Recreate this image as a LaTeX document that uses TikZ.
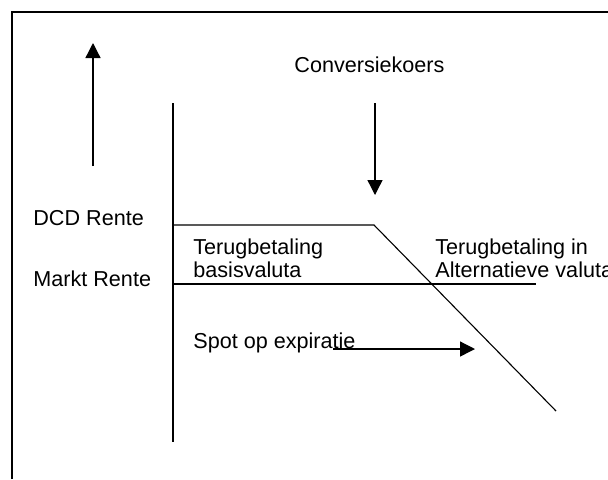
\documentclass[tikz,border=0pt]{standalone}
\usepackage{fontspec}
\setmainfont{Liberation Sans}
\usetikzlibrary{arrows.meta}
\begin{document}
\begin{tikzpicture}[x=0.5pt,y=-0.5pt,
  frameline/.style={line width=0.75pt},
  plotline/.style={line width=0.55pt},
  arrowline/.style={line width=0.65pt,-{Triangle[length=7.5pt,width=7.5pt]}},
  lbl/.style={anchor=base west,inner sep=0pt,font=\fontsize{10.8pt}{11.5pt}\selectfont,align=left}]
\useasboundingbox (0,0) rectangle (608,479);
% frame
\coordinate (fb) at (12,479);
\coordinate (ftl) at (12,12);
\coordinate (fr) at (608,12);
\draw[frameline] (fb) -- (ftl) -- (fr);
% axis
\coordinate (axtop) at (173,103);
\coordinate (axbot) at (173,442);
\draw[plotline] (axtop) -- (axbot);
% DCD line and diagonal
\coordinate (dcd0) at (173,225);
\coordinate (kink) at (374,225);
\coordinate (diagend) at (556,411);
\draw[plotline] (dcd0) -- (kink) -- (diagend);
% Markt line
\coordinate (mk0) at (173,284);
\coordinate (mk1) at (536,284);
\draw[plotline] (mk0) -- (mk1);
% arrows
\coordinate (upfrom) at (93,166);
\coordinate (upto) at (93,43);
\draw[arrowline] (upfrom) -- (upto);
\coordinate (dnfrom) at (375,103);
\coordinate (dnto) at (375,195);
\draw[arrowline] (dnfrom) -- (dnto);
\coordinate (spfrom) at (333,349);
\coordinate (spto) at (475,349);
\draw[arrowline] (spfrom) -- (spto);
% labels
\node[lbl] (conv) at (294,72) {Conversiekoers};
\node[lbl] (dcd) at (33,225) {DCD Rente};
\node[lbl] (markt) at (33,286) {Markt Rente};
\node[lbl] (terug) at (193,277) {Terugbetaling\\basisvaluta};
\node[lbl] (terugalt) at (435,277) {Terugbetaling in\\Alternatieve valuta};
\node[lbl] (spot) at (193,348) {Spot op expiratie};
\end{tikzpicture}
\end{document}
